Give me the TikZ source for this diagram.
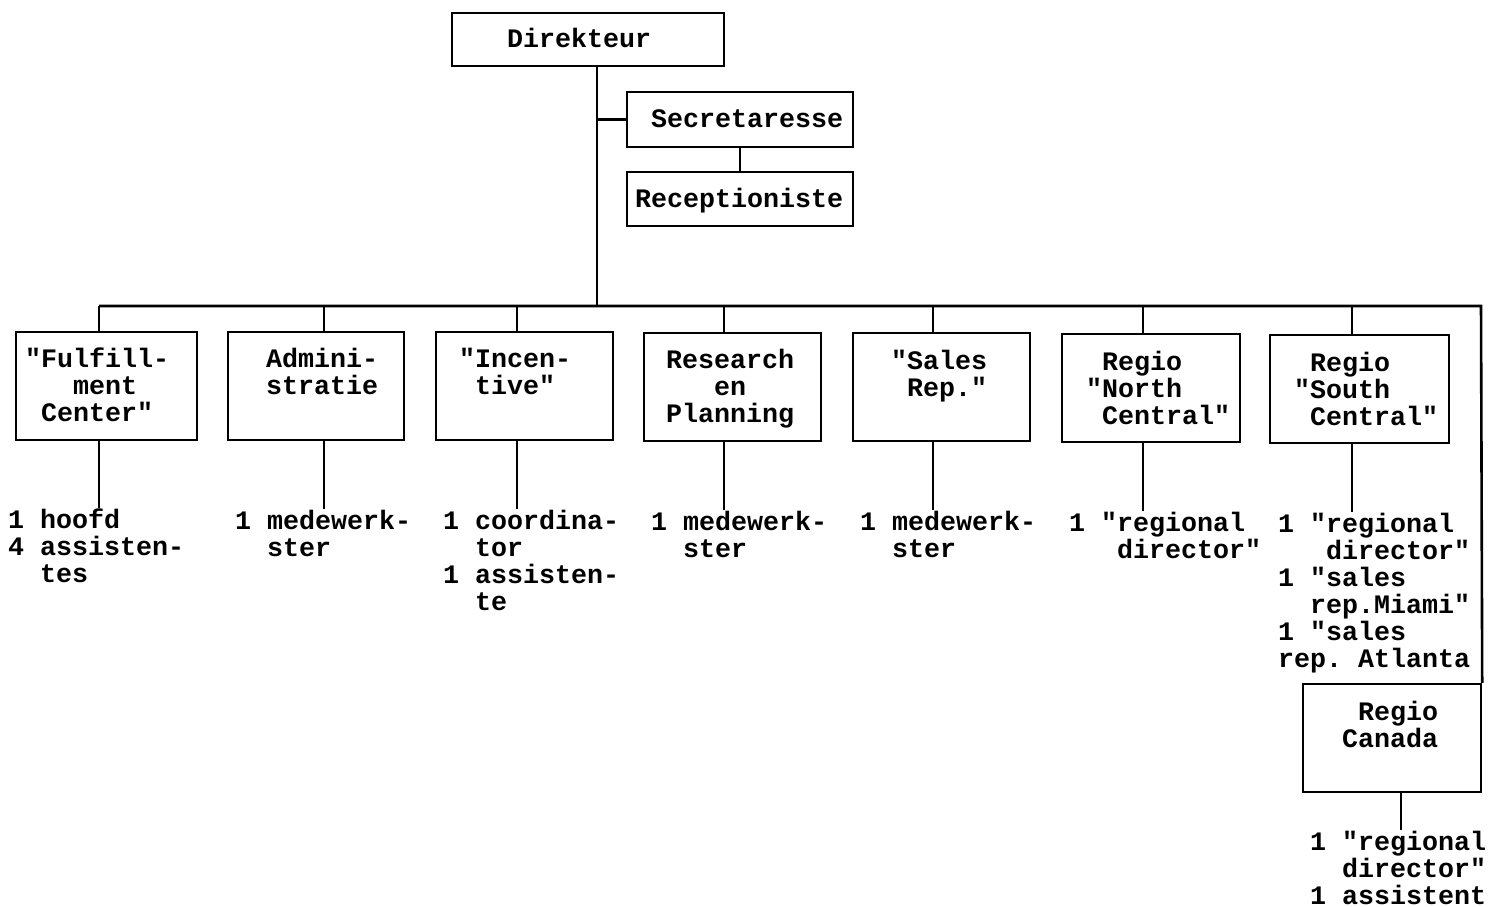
\documentclass[tikz,border=0pt]{standalone}
\usepackage{fontspec}
\setmonofont{Liberation Mono}
\newcommand\tw{\ttfamily\bfseries\fontsize{26.67pt}{27pt}\selectfont\frenchspacing}
\newlength\cw
\setlength\cw{16pt}
\newcommand\ind[1]{\hspace*{#1\cw}}
\begin{document}
\begin{tikzpicture}[x=1pt,y=-1pt,
  box/.style={draw, line width=2.4pt, inner sep=0pt},
  ln/.style={line width=2.6pt},
  txt/.style={anchor=base west, inner sep=0pt, align=left, font=\tw}]
\fill[white] (0,0) rectangle (1488,907);
\useasboundingbox (0,0) rectangle (1488,907);
% boxes
\node[box, minimum width=272pt, minimum height=53pt] (dir) at (588,39.5) {};
\node[box, minimum width=226pt, minimum height=55pt] (sec) at (740,119.5) {};
\node[box, minimum width=226pt, minimum height=54pt] (rec) at (740,199) {};
\node[box, minimum width=181pt, minimum height=108pt] (F) at (106.5,386) {};
\node[box, minimum width=176pt, minimum height=108pt] (A) at (316,386) {};
\node[box, minimum width=177pt, minimum height=108pt] (I) at (524.5,386) {};
\node[box, minimum width=177pt, minimum height=108pt] (R) at (732.5,387) {};
\node[box, minimum width=177pt, minimum height=108pt] (S) at (941.5,387) {};
\node[box, minimum width=178pt, minimum height=108pt] (NC) at (1151,388) {};
\node[box, minimum width=179pt, minimum height=108pt] (SC) at (1359.5,389) {};
\node[box, minimum width=178pt, minimum height=108pt] (can) at (1392,738) {};
% box texts (anchor = baseline of the last line)
\node[txt] (tdir) at (507,48) {Direkteur};
\node[txt] (tsec) at (651,127) {Secretaresse};
\node[txt] (trec) at (635,207) {Receptioniste};
\node[txt] (tF) at (25,421) {"Fulfill-\\\ind{3}ment\\\ind{1}Center"};
\node[txt] (tA) at (266,394) {Admini-\\stratie};
\node[txt] (tI) at (459,394) {"Incen-\\\ind{1}tive"};
\node[txt] (tR) at (666,422) {Research\\\ind{3}en\\Planning};
\node[txt] (tS) at (891,396) {"Sales\\\ind{1}Rep."};
\node[txt] (tNC) at (1086,424) {\ind{1}Regio\\"North\\\ind{1}Central"};
\node[txt] (tSC) at (1294,425) {\ind{1}Regio\\"South\\\ind{1}Central"};
\node[txt] (tCa) at (1342,747) {\ind{1}Regio\\Canada};
% staff texts
\node[txt] (bF) at (8,582) {1 hoofd\\4 assisten-\\\ind{2}tes};
\node[txt] (bA) at (235,556) {1 medewerk-\\\ind{2}ster};
\node[txt] (bI) at (443,610) {1 coordina-\\\ind{2}tor\\1 assisten-\\\ind{2}te};
\node[txt] (bR) at (651,557) {1 medewerk-\\\ind{2}ster};
\node[txt] (bS) at (860,557) {1 medewerk-\\\ind{2}ster};
\node[txt] (bNC) at (1069,558) {1 "regional\\\ind{3}director"};
\node[txt] (bSC) at (1278,667) {1 "regional\\\ind{3}director"\\1 "sales\\\ind{2}rep.Miami"\\1 "sales\\rep. Atlanta};
\node[txt] (bCa) at (1310,904) {1 "regional\\\ind{2}director"\\1 assistent};
% bus coordinates
\coordinate (dT) at (597,306);
\coordinate (dF) at (99,306);
\coordinate (dA) at (324,306);
\coordinate (dI) at (517,306);
\coordinate (dR) at (724,306);
\coordinate (dS) at (933,306);
\coordinate (dNC) at (1143,306);
\coordinate (dSC) at (1352,306);
\coordinate (dE) at (1481,306);
\coordinate (dCa) at (1401,792);
% connectors
\draw[ln] (dir.south -| dT) -- (dT);
\draw[ln] (sec.west -| dT) -- (sec.west);
\draw[ln] (sec.south) -- (rec.north);
\draw[ln] (dF) -- (dE) -- (can.north east);
\foreach \b/\d/\t in {F/dF/bF, A/dA/bA, I/dI/bI, R/dR/bR, S/dS/bS, NC/dNC/bNC, SC/dSC/bSC}{
  \draw[ln] (\d) -- (\d |- \b.north);
  \draw[ln] (\b.south -| \d) -- (\t.north -| \d);
}
\draw[ln] (can.south -| dCa) -- (bCa.north -| dCa);
\end{tikzpicture}
\end{document}
